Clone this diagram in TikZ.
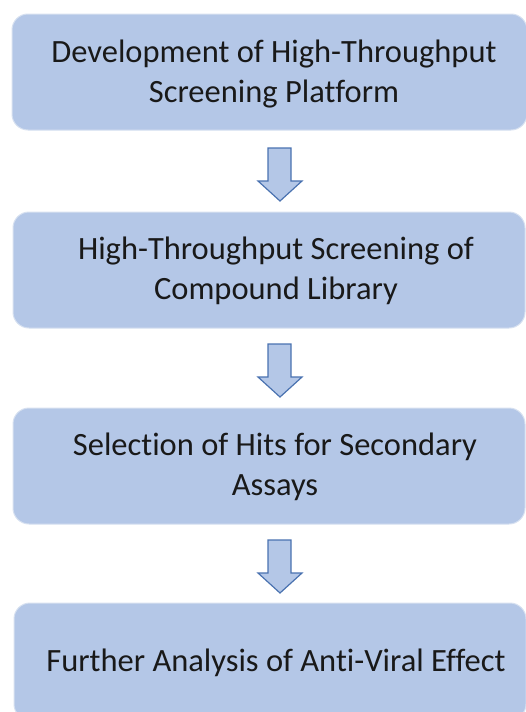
\documentclass[tikz,border=0pt]{standalone}
\usepackage{fontspec}
\setmainfont{Carlito}[Ligatures={NoCommon,TeX}]
\definecolor{boxfill}{HTML}{B4C7E7}
\definecolor{boxedge}{HTML}{D6E0F0}
\definecolor{arrowedge}{HTML}{4A72B0}
\tikzset{
  stage/.style={draw=boxedge, line width=1pt, fill=boxfill, rounded corners=16pt},
  stagetext/.style={align=center, text=black!90, font=\fontsize{32.5}{40}\selectfont, inner sep=0pt},
  blockarrow/.style={draw=arrowedge, line width=1.2pt, fill=boxfill, line join=miter}
}
\begin{document}
\begin{tikzpicture}[x=1pt,y=-1pt]
\useasboundingbox (0,0) rectangle (526,712);
% boxes
\draw[stage] (12,14) rectangle (527,130);
\node[stagetext] (s1) at (274,74) {Development of High-Throughput\\Screening Platform};
\draw[stage] (13,212) rectangle (525,328);
\node[stagetext] (s2) at (276,271) {High-Throughput Screening of\\Compound Library};
\draw[stage] (13,408) rectangle (525,524);
\node[stagetext] (s3) at (275,467) {Selection of Hits for Secondary\\Assays};
\draw[stage] (14,603) rectangle (526,720);
\node[stagetext] (s4) at (276,663) {Further Analysis of Anti-Viral Effect};
% arrows
\foreach \dy/\n in {0/a1,196/a2,392/a3}{
  \draw[blockarrow] (268,148+\dy) -- (291,148+\dy) -- (291,181+\dy) -- (302,181+\dy)
     -- (280,201+\dy) coordinate (\n) -- (258,181+\dy) -- (268,181+\dy) -- cycle;
}
\end{tikzpicture}
\end{document}
